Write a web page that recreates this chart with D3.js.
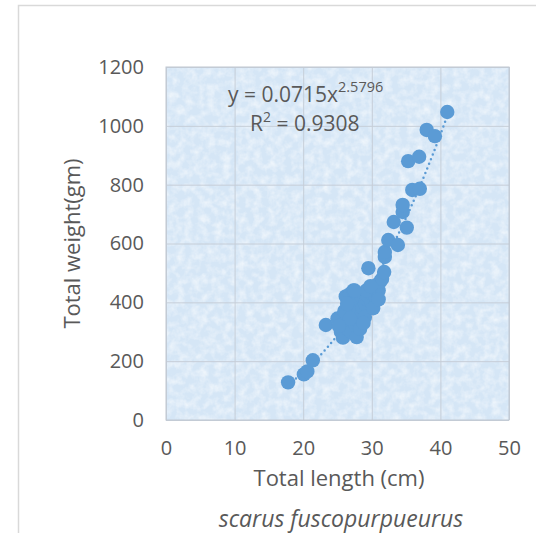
<!DOCTYPE html>
<html>
<head>
<meta charset="utf-8">
<script src="https://cdn.jsdelivr.net/npm/d3@7"></script>
<style>
  html, body { margin: 0; padding: 0; background: #fff; }
  svg { display: block; font-family: "Open Sans", "Noto Sans", sans-serif; }
</style>
</head>
<body>
<div id="chart"></div>
<script>
// Total length (cm) of each fish
const lengths = [
  17.8, 20.1, 20.6, 21.4, 23.3,
  25.0, 25.5, 25.8, 26.0, 26.2, 26.5, 26.5, 26.8, 27.0, 27.0,
  27.2, 27.5, 27.5, 27.8, 27.8, 28.0, 28.0, 28.2, 28.5, 28.5,
  28.7, 29.0, 29.0, 29.3, 29.5, 30.0, 30.0, 30.3, 30.5, 30.8,
  31.0, 31.2, 31.5, 26.0, 27.3, 28.3, 29.2, 26.8, 28.8, 30.2,
  31.0, 25.2, 26.4, 27.5, 29.8,
  29.5, 31.8, 31.9, 31.9, 32.4, 33.8, 33.2, 35.1, 34.5, 34.5,
  35.9, 37.0, 35.3, 36.9, 38.0, 39.2, 41.0
];
// Total weight (gm) of each fish
const weights = [
  128, 155, 165, 203, 323,
  345, 300, 280, 330, 420, 310, 380, 428, 350, 300,
  395, 410, 330, 370, 282, 340, 430, 400, 360, 420,
  380, 395, 350, 410, 420, 400, 430, 445, 420, 460,
  440, 470, 480, 370, 440, 310, 440, 345, 330, 380,
  410, 320, 395, 440, 455,
  516, 503, 554, 571, 612, 595, 673, 654, 707, 731,
  782, 786, 880, 895, 986, 965, 1047
];
const xTicks = [0, 10, 20, 30, 40, 50];
const yTicks = [0, 200, 400, 600, 800, 1000, 1200];
// power trendline y = a * x^b
const fitA = 0.0715;
const fitB = 2.5796;
const fitR2 = "0.9308";

const W = 536, H = 533;
const plot = { left: 166, right: 509, top: 67, bottom: 420 };
const blue = "#5b9bd5";
const grey = "#595959";

const svg = d3.select("#chart").append("svg")
  .attr("width", W).attr("height", H);

// chart frame
svg.append("rect")
  .attr("x", 18.5).attr("y", 5.5)
  .attr("width", 700).attr("height", 700)
  .attr("fill", "#fff").attr("stroke", "#d9d9d9").attr("stroke-width", 1.5);

const x = d3.scaleLinear().domain([0, 50]).range([plot.left, plot.right]);
const y = d3.scaleLinear().domain([0, 1200]).range([plot.bottom, plot.top]);

// textured plot background
const defs = svg.append("defs");
const filt = defs.append("filter").attr("id", "tex")
  .attr("x", 0).attr("y", 0).attr("width", 1).attr("height", 1);
filt.append("feTurbulence")
  .attr("type", "fractalNoise").attr("baseFrequency", "0.13")
  .attr("numOctaves", 3).attr("seed", 7).attr("result", "n");
filt.append("feColorMatrix").attr("in", "n").attr("type", "matrix")
  .attr("values", "0 0 0 0 1  0 0 0 0 1  0 0 0 0 1  0 0 0 -1.8 1.15");
filt.append("feComposite").attr("in2", "SourceGraphic").attr("operator", "in");

svg.append("rect")
  .attr("x", plot.left).attr("y", plot.top)
  .attr("width", plot.right - plot.left).attr("height", plot.bottom - plot.top)
  .attr("fill", "#d5e6f6");
svg.append("rect")
  .attr("x", plot.left).attr("y", plot.top)
  .attr("width", plot.right - plot.left).attr("height", plot.bottom - plot.top)
  .attr("fill", "#fff").attr("filter", "url(#tex)").attr("opacity", 0.6);

// gridlines
svg.append("g")
  .attr("transform", `translate(0,${plot.bottom})`)
  .call(d3.axisBottom(x).tickValues(xTicks).tickSize(-(plot.bottom - plot.top)).tickFormat(""))
  .call(g => g.select(".domain").remove())
  .call(g => g.selectAll("line").attr("stroke", "#c6ced8"));
svg.append("g")
  .attr("transform", `translate(${plot.left},0)`)
  .call(d3.axisLeft(y).tickValues(yTicks).tickSize(-(plot.right - plot.left)).tickFormat(""))
  .call(g => g.select(".domain").remove())
  .call(g => g.selectAll("line").attr("stroke", "#c6ced8"));

svg.append("rect")
  .attr("x", plot.left).attr("y", plot.top)
  .attr("width", plot.right - plot.left).attr("height", plot.bottom - plot.top)
  .attr("fill", "none").attr("stroke", "#c0c8d2");

// tick labels
svg.append("g")
  .attr("transform", `translate(0,${plot.bottom + 21})`)
  .call(d3.axisBottom(x).tickValues(xTicks).tickSize(0).tickPadding(0).tickFormat(d3.format("d")))
  .call(g => g.select(".domain").remove())
  .call(g => g.selectAll("text").attr("fill", grey).attr("font-size", 20)
    .attr("font-family", "'Open Sans', 'Noto Sans', sans-serif").attr("dy", "0.7em"));
svg.append("g")
  .attr("transform", `translate(${plot.left - 22},0)`)
  .call(d3.axisLeft(y).tickValues(yTicks).tickSize(0).tickPadding(0).tickFormat(d3.format("d")))
  .call(g => g.select(".domain").remove())
  .call(g => g.selectAll("text").attr("fill", grey).attr("font-size", 20)
    .attr("font-family", "'Open Sans', 'Noto Sans', sans-serif"));

// trendline
const xs = d3.extent(lengths);
const fitPts = d3.range(xs[0], xs[1] + 0.001, 0.2).map(v => [v, fitA * Math.pow(v, fitB)]);
svg.append("path")
  .datum(fitPts)
  .attr("d", d3.line().x(d => x(d[0])).y(d => y(d[1])))
  .attr("fill", "none").attr("stroke", blue).attr("stroke-width", 2.5)
  .attr("stroke-linecap", "round").attr("stroke-dasharray", "0,5");

// points
svg.append("g").selectAll("circle")
  .data(lengths.map((l, i) => [l, weights[i]]))
  .join("circle")
  .attr("cx", d => x(d[0])).attr("cy", d => y(d[1]))
  .attr("r", 7.2).attr("fill", blue);

// equation
const eq = svg.append("text").attr("x", 228).attr("y", 102)
  .attr("fill", grey).attr("font-size", 21);
eq.append("tspan").text(`y = ${fitA}x`);
eq.append("tspan").attr("dy", -10).attr("font-size", 14.5).text(fitB);
const r2 = svg.append("text").attr("x", 250).attr("y", 131)
  .attr("fill", grey).attr("font-size", 21);
r2.append("tspan").text("R");
r2.append("tspan").attr("dy", -9).attr("font-size", 14).text("2");
r2.append("tspan").attr("dy", 9).text(` = ${fitR2}`);

// axis titles
svg.append("text")
  .attr("x", 339).attr("y", 486)
  .attr("text-anchor", "middle").attr("fill", grey).attr("font-size", 22)
  .text("Total length (cm)");
svg.append("text")
  .attr("transform", `translate(80,${(plot.top + plot.bottom) / 2}) rotate(-90)`)
  .attr("text-anchor", "middle").attr("fill", grey).attr("font-size", 22)
  .text("Total weight(gm)");
svg.append("text")
  .attr("x", 341).attr("y", 527)
  .attr("text-anchor", "middle").attr("fill", grey).attr("font-size", 23)
  .attr("font-style", "italic")
  .text("scarus fuscopurpueurus");
</script>
</body>
</html>
